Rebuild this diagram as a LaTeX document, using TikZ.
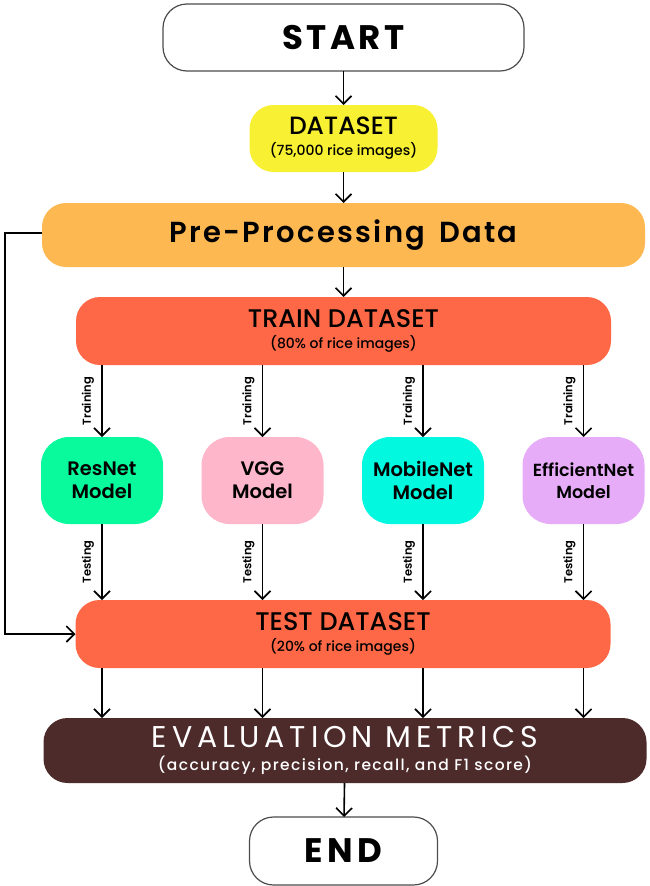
\documentclass[tikz,border=0pt]{standalone}
\usepackage{fontspec}
\setmainfont{Poppins}
\newfontfamily\medf{Poppins Medium}
\newfontfamily\semif{Poppins SemiBold}
\usetikzlibrary{positioning,arrows.meta}
\definecolor{dsyellow}{HTML}{F8F032}
\definecolor{preorange}{HTML}{FDB852}
\definecolor{setred}{HTML}{FF6847}
\definecolor{resgreen}{HTML}{08FA9C}
\definecolor{vggpink}{HTML}{FDB6CA}
\definecolor{mobcyan}{HTML}{02F9E0}
\definecolor{effviolet}{HTML}{E6ACF8}
\definecolor{evalbrown}{HTML}{4D2B2B}

\begin{document}
\begin{tikzpicture}[x=1pt,y=1pt,every node/.style={outer sep=0pt},
    box/.style={rectangle,rounded corners=24pt,inner sep=0pt,align=center},
    term/.style={box,draw=black!70,line width=1.2pt,fill=white,minimum width=361pt,minimum height=67pt,
      font=\fontsize{34}{34}\selectfont\bfseries\addfontfeature{LetterSpace=10}},
    wide/.style={box,minimum width=535pt,minimum height=68pt,fill=setred,font=\medf\fontsize{25.5}{21}\selectfont},
    model/.style={box,rounded corners=28pt,minimum width=122pt,minimum height=87pt,
      font=\semif\fontsize{19.5}{23}\selectfont},
    arr/.style={line width=1.6pt,-{Straight Barb[length=8pt,width=16pt]}},
    lbl/.style={font=\semif\fontsize{11.5}{11.5}\selectfont,rotate=90,anchor=south,inner sep=8pt}]

    \useasboundingbox (0,0) rectangle (649,-886);

    \node[term] (start) at (343.5,-37.5) {START};
    \node[box,fill=dsyellow,minimum width=188pt,minimum height=67pt,below=34pt of start,
      font=\medf\fontsize{25}{21}\selectfont] (data)
      {DATASET\\{\fontsize{14}{14}\selectfont (75,000 rice images)}};
    \node[box,fill=preorange,minimum width=603pt,minimum height=64pt,below=31pt of data,
      font=\semif\fontsize{29}{29}\selectfont\addfontfeature{LetterSpace=8}] (pre) {Pre-Processing\hspace{14pt}Data};
    \node[wide,below=30pt of pre] (train)
      {TRAIN DATASET\\{\fontsize{14}{14}\selectfont (80\% of rice images)}};

    % models
    \node[model,fill=resgreen] (m1) at (102,-480.5) {ResNet\\Model};
    \node[model,fill=vggpink,right=38.5pt of m1] (m2) {VGG\\Model};
    \node[model,fill=mobcyan,right=38.5pt of m2] (m3) {MobileNet\\Model};
    \node[model,fill=effviolet,right=38.5pt of m3,font=\semif\fontsize{17.5}{22}\selectfont] (m4) {EfficientNet\\Model};

    \node[wide] (test) at (343,-634)
      {TEST DATASET\\{\fontsize{14}{14}\selectfont (20\% of rice images)}};
    \node[box,fill=evalbrown,text=white,minimum width=603pt,minimum height=65pt,
      font=\fontsize{30}{23}\selectfont] (eval) at (345,-750.5)
      {{\addfontfeature{LetterSpace=16}EVALUATION METRICS}\\
       {\medf\fontsize{15.5}{16}\selectfont\addfontfeature{LetterSpace=9}(accuracy, precision, recall, and F1 score)}};
    \node[term,minimum width=188pt,minimum height=68pt,font=\fontsize{34}{34}\selectfont\bfseries\addfontfeature{LetterSpace=14}] (end) at (343.5,-851) {END};

    \draw[arr] (start) -- (data);
    \draw[arr] (data) -- (pre);
    \draw[arr] (pre) -- (train);
    \draw[arr] (eval) -- (end);

    \foreach \X in {1,...,4}
    {
      \draw[arr] (m\X|-train.south) -- (m\X.north) node[midway,lbl]{Training};
      \draw[arr] (m\X.south) -- (m\X|-test.north) node[midway,lbl]{Testing};
      \draw[arr] (m\X|-test.south) -- (m\X|-eval.north);
    }

    \draw[arr] ([yshift=2pt]pre.west) -- ++(-37,0) coordinate (back) |- (test.west);
  \end{tikzpicture}
\end{document}
